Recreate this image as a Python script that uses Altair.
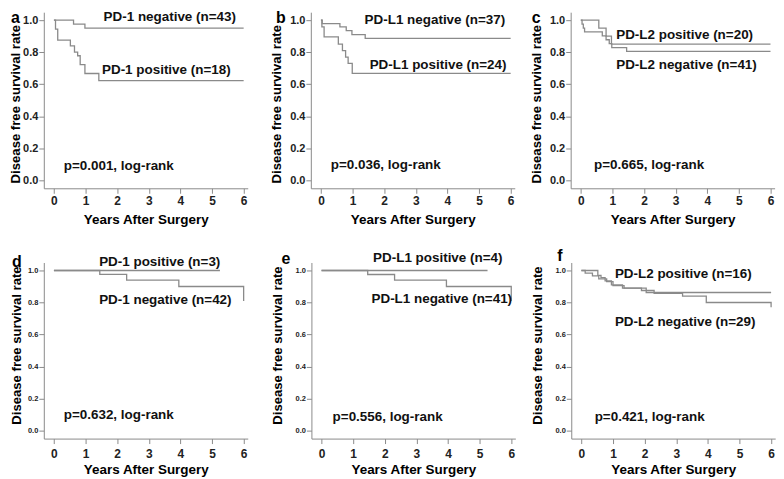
import altair as alt
import pandas as pd

GRAY = "#8a8a8a"
FONT = "Liberation Sans"

# ---------------- survival curves (time in years, survival rate) -------------
# a: PD-1
a_neg_t = [0.0, 0.62, 0.98, 6.0]
a_neg_s = [1.0, 0.975, 0.95, 0.95]
a_pos_t = [0.0, 0.05, 0.12, 0.52, 0.65, 0.75, 0.83, 0.98, 1.42, 6.0]
a_pos_s = [1.0, 0.944, 0.875, 0.84, 0.80, 0.778, 0.722, 0.667, 0.622, 0.622]
# b: PD-L1
b_neg_t = [0.0, 0.04, 0.6, 0.8, 0.98, 1.4, 6.0]
b_neg_s = [1.0, 0.979, 0.958, 0.935, 0.91, 0.886, 0.886]
b_pos_t = [0.0, 0.03, 0.1, 0.55, 0.68, 0.78, 0.86, 0.99, 6.0]
b_pos_s = [1.0, 0.958, 0.896, 0.85, 0.81, 0.77, 0.73, 0.668, 0.668]
# c: PD-L2
c_pos_t = [0.0, 0.57, 0.8, 0.97, 6.0]
c_pos_s = [1.0, 0.95, 0.90, 0.85, 0.85]
c_neg_t = [0.0, 0.04, 0.08, 0.12, 0.68, 0.8, 0.9, 0.98, 1.45, 6.0]
c_neg_s = [1.0, 0.976, 0.951, 0.927, 0.902, 0.878, 0.854, 0.829, 0.805, 0.805]
# d: PD-1 (second cohort)
d_pos_t = [0.0, 5.25]
d_pos_s = [1.0, 1.0]
d_neg_t = [0.0, 1.45, 2.3, 3.95, 6.0]
d_neg_s = [1.0, 0.976, 0.94, 0.90, 0.81]
# e: PD-L1 (second cohort)
e_pos_t = [0.0, 5.25]
e_pos_s = [1.0, 1.0]
e_neg_t = [0.0, 1.46, 2.31, 3.95, 6.0]
e_neg_s = [1.0, 0.975, 0.94, 0.90, 0.81]
# f: PD-L2 (second cohort)
f_pos_t = [0.0, 0.52, 0.62, 0.75, 0.95, 1.3, 2.05, 6.0]
f_pos_s = [1.0, 0.97, 0.955, 0.935, 0.91, 0.89, 0.8625, 0.8625]
f_neg_t = [0.0, 0.12, 0.35, 0.55, 0.8, 1.0, 1.35, 1.9, 2.3, 3.2, 3.95, 6.0]
f_neg_s = [1.0, 0.983, 0.966, 0.948, 0.93, 0.905, 0.89, 0.875, 0.857, 0.84, 0.80, 0.77]

# ---------------- texts ------------------------------------------------------
a_labels = ["PD-1 negative (n=43)", "PD-1 positive (n=18)", "p=0.001, log-rank"]
b_labels = ["PD-L1 negative (n=37)", "PD-L1 positive (n=24)", "p=0.036, log-rank"]
c_labels = ["PD-L2 positive (n=20)", "PD-L2 negative (n=41)", "p=0.665, log-rank"]
d_labels = ["PD-1 positive (n=3)", "PD-1 negative (n=42)", "p=0.632, log-rank"]
e_labels = ["PD-L1 positive (n=4)", "PD-L1 negative (n=41)", "p=0.556, log-rank"]
f_labels = ["PD-L2 positive (n=16)", "PD-L2 negative (n=29)", "p=0.421, log-rank"]

# annotation anchors (data coordinates: years, rate)
a_anchor = [(1.57, 1.02), (1.52, 0.688), (0.31, 0.087)]
b_anchor = [(1.38, 1.0), (1.54, 0.72), (0.31, 0.096)]
c_anchor = [(1.12, 0.907), (1.12, 0.72), (0.42, 0.093)]
d_anchor = [(1.43, 1.054), (1.43, 0.814), (0.31, 0.096)]
e_anchor = [(1.63, 1.075), (1.58, 0.823), (0.35, 0.083)]
f_anchor = [(1.06, 0.977), (1.06, 0.68), (0.42, 0.0875)]

x_ticks = [0, 1, 2, 3, 4, 5, 6]
y_ticks = [0.0, 0.2, 0.4, 0.6, 0.8, 1.0]

W, H = 205, 177
xs = alt.Scale(domain=[-0.32, 6.13], nice=False, zero=False)
ys = alt.Scale(domain=[-0.05, 1.05], nice=False, zero=False)


def panel(letter, curves, labels, anchors, row, y_tp, letter_pos):
    rows = []
    for name, ts, ss in curves:
        for t, s in zip(ts, ss):
            rows.append({"t": t, "s": s, "grp": name})
    df = pd.DataFrame(rows)
    tdf = pd.DataFrame({"t": [p[0] for p in anchors], "s": [p[1] for p in anchors], "label": labels})

    y_label_size = 11 if row == 0 else 7.5
    x_lp = 2.8 if row == 0 else 5.1
    x_tp = 5.5 if row == 0 else 3.3
    y_title_y = 92 if row == 0 else 83

    yaxis = alt.Axis(values=y_ticks, format=".1f", title="Disease free survival rate",
                     titleFontSize=13.2, titleFontWeight="bold", titlePadding=y_tp,
                     titleY=y_title_y,
                     titleColor="#000", labelFontSize=y_label_size, labelPadding=1,
                     labelFontWeight="bold",
                     labelColor="#222", tickSize=5, domainColor=GRAY, tickColor=GRAY,
                     grid=False, labelFont=FONT, titleFont=FONT)
    xaxis = alt.Axis(values=x_ticks, format="d", title="Years After Surgery",
                     titleFontSize=13.5, titleFontWeight="bold", titlePadding=x_tp,
                     titleColor="#000", labelFontSize=12, labelPadding=x_lp, labelAngle=0,
                     labelFontWeight="bold",
                     labelColor="#222", tickSize=5, domainColor=GRAY, tickColor=GRAY,
                     grid=False, labelFont=FONT, titleFont=FONT)

    lines = alt.Chart(df).mark_line(interpolate="step-after", color=GRAY, strokeWidth=1.3).encode(
        x=alt.X("t:Q", scale=xs, axis=xaxis),
        y=alt.Y("s:Q", scale=ys, axis=yaxis),
        detail="grp:N",
    )
    texts = alt.Chart(tdf).mark_text(align="left", baseline="middle", fontSize=13.5,
                                     fontWeight="bold", font=FONT, color="#111").encode(
        x=alt.X("t:Q", scale=xs, axis=xaxis),
        y=alt.Y("s:Q", scale=ys, axis=yaxis),
        text="label:N",
    )
    let = alt.Chart(pd.DataFrame({"l": [letter]})).mark_text(
        align="left", baseline="top", fontSize=16, fontWeight="bold", font=FONT, color="#000"
    ).encode(x=alt.value(letter_pos[0]), y=alt.value(letter_pos[1]), text="l:N")
    return alt.layer(lines, texts, let).properties(width=W, height=H)


pa = panel("a", [("neg", a_neg_t, a_neg_s), ("pos", a_pos_t, a_pos_s)], a_labels, a_anchor, 0, 0, (-33, -2))
pb = panel("b", [("neg", b_neg_t, b_neg_s), ("pos", b_pos_t, b_pos_s)], b_labels, b_anchor, 0, 6, (-35, -2))
pc = panel("c", [("pos", c_pos_t, c_pos_s), ("neg", c_neg_t, c_neg_s)], c_labels, c_anchor, 0, 6, (-39, -2))
pd_ = panel("d", [("pos", d_pos_t, d_pos_s), ("neg", d_neg_t, d_neg_s)], d_labels, d_anchor, 1, 4.3, (-32, -8))
pe = panel("e", [("pos", e_pos_t, e_pos_s), ("neg", e_neg_t, e_neg_s)], e_labels, e_anchor, 1, 10.9, (-30, -11.5))
pf = panel("f", [("pos", f_pos_t, f_pos_s), ("neg", f_neg_t, f_neg_s)], f_labels, f_anchor, 1, 10.9, (-14, -15))

row1 = alt.hconcat(pa, alt.hconcat(pb, pc, spacing=14.2), spacing=21.4)
row2 = alt.hconcat(pd_, alt.hconcat(pe, pf, spacing=14.2), spacing=22)

chart = alt.vconcat(row1, row2, spacing=21.6).properties(padding=0).configure(
    font=FONT
).configure_view(strokeWidth=0)

chart.save("out.html", embed_options={"renderer": "svg", "actions": False})
